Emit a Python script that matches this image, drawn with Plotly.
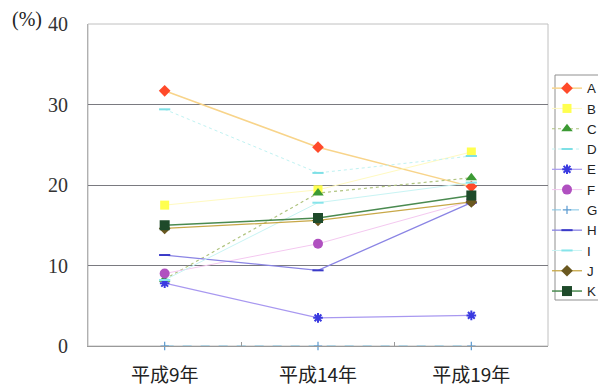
import plotly.graph_objects as go

categories = ["平成9年", "平成14年", "平成19年"]
series_names = ["A", "B", "C", "D", "E", "F", "G", "H", "I", "J", "K"]
A = [31.7, 24.7, 19.8]
B = [17.5, 19.4, 24.1]
C = [8.3, 19.0, 20.9]
D = [29.4, 21.5, 23.6]
E = [7.8, 3.5, 3.8]
F = [9.0, 12.7, 18.0]
G = [0.0, 0.0, 0.0]
H = [11.3, 9.4, 17.8]
I = [8.2, 17.8, 20.3]
J = [14.6, 15.6, 17.9]
K = [15.0, 15.9, 18.7]
values = [A, B, C, D, E, F, G, H, I, J, K]
y_ticks = [0, 10, 20, 30, 40]

styles = {
    "A": dict(symbol="diamond", mcolor="#ff4a2a", size=9, lcolor="#f8d48a", dash="solid", lw=1.5),
    "B": dict(symbol="square", mcolor="#ffff50", size=9, lcolor="#fffac0", dash="solid", lw=1),
    "C": dict(symbol="triangle-up", mcolor="#3c9a34", size=10, lcolor="#b0c480", dash="dot", lw=1.2),
    "D": dict(symbol="line-ew", mcolor="#7ee0e6", size=8, lcolor="#c0f2f2", dash="dot", lw=1),
    "E": dict(symbol="asterisk-open", mcolor="#3a3ae0", size=8, lcolor="#a898f0", dash="solid", lw=1.2),
    "F": dict(symbol="circle", mcolor="#b050c0", size=10, lcolor="#f4c8f0", dash="solid", lw=1),
    "G": dict(symbol="cross-thin-open", mcolor="#5a9ad0", size=6, lcolor="#80c4e4", dash="dash", lw=1),
    "H": dict(symbol="line-ew", mcolor="#3a3ac8", size=8, lcolor="#8a84e4", dash="solid", lw=1.3),
    "I": dict(symbol="line-ew", mcolor="#86e4ea", size=8, lcolor="#c8f4f4", dash="solid", lw=1),
    "J": dict(symbol="diamond", mcolor="#6a5820", size=9, lcolor="#c8a848", dash="solid", lw=1.3),
    "K": dict(symbol="square", mcolor="#1e4a2a", size=10, lcolor="#4a8a50", dash="solid", lw=1.5),
}

fig = go.Figure()
for name, vals in zip(series_names, values):
    s = styles[name]
    open_sym = s["symbol"].startswith("line") or s["symbol"].endswith("open")
    fig.add_trace(go.Scatter(
        x=categories, y=vals, name=name, mode="lines+markers",
        line=dict(color=s["lcolor"], width=s["lw"], dash=s["dash"]),
        marker=dict(symbol=s["symbol"], size=s["size"], color=s["mcolor"],
                    line=dict(color=s["mcolor"], width=(1.2 if name == "G" else 2) if open_sym else 0)),
        cliponaxis=False,
    ))

fig.update_layout(
    width=598, height=386,
    margin=dict(l=88, r=50, t=24, b=40, autoexpand=False),
    paper_bgcolor="white", plot_bgcolor="white",
    font=dict(family="Liberation Sans, Arial", color="#222"),
    xaxis=dict(
        type="category", range=[-0.5, 2.5],
        showline=True, linecolor="#9a9a9a", linewidth=1,
        ticks="inside", ticklen=4, tickcolor="#9a9a9a", tickson="boundaries",
        showgrid=False, zeroline=False,
        tickfont=dict(family="Noto Sans CJK JP", size=19, color="#222"),
        ticklabelstandoff=12,
    ),
    yaxis=dict(
        range=[0, 40], tickvals=y_ticks, ticktext=[str(v) for v in y_ticks],
        showline=True, linecolor="#b0b0b0", linewidth=1,
        showgrid=True, gridcolor="#7a7a80", gridwidth=1.3,
        zeroline=False, ticks="",
        tickfont=dict(family="Liberation Serif, Times New Roman", size=20, color="#333"),
        ticklabelstandoff=15,
    ),
    legend=dict(
        x=(547 - 88) / 460, xanchor="left", y=1 - (73 - 24) / 322, yanchor="top",
        bgcolor="rgba(0,0,0,0)", borderwidth=0,
        font=dict(family="Liberation Sans, Arial", size=13.3, color="#222"),
        itemwidth=30, tracegroupgap=0,
    ),
    showlegend=True,
    shapes=[
        dict(type="rect", xref="paper", yref="paper", x0=0, x1=1, y0=0, y1=1,
             line=dict(color="#c0c0c0", width=1), layer="below"),
        dict(type="rect", xref="paper", yref="paper",
             x0=(555 - 88) / 460, x1=(606 - 88) / 460,
             y0=1 - (300 - 24) / 322, y1=1 - (75 - 24) / 322,
             line=dict(color="#909090", width=1), layer="above"),
    ],
    annotations=[
        dict(text="(%)", xref="paper", yref="paper", x=(10 - 88) / 460, y=1 - (20 - 24) / 322,
             xanchor="left", yanchor="middle", showarrow=False,
             font=dict(family="Liberation Serif, Times New Roman", size=20, color="#222")),
    ],
)

fig.write_html("out.html")
